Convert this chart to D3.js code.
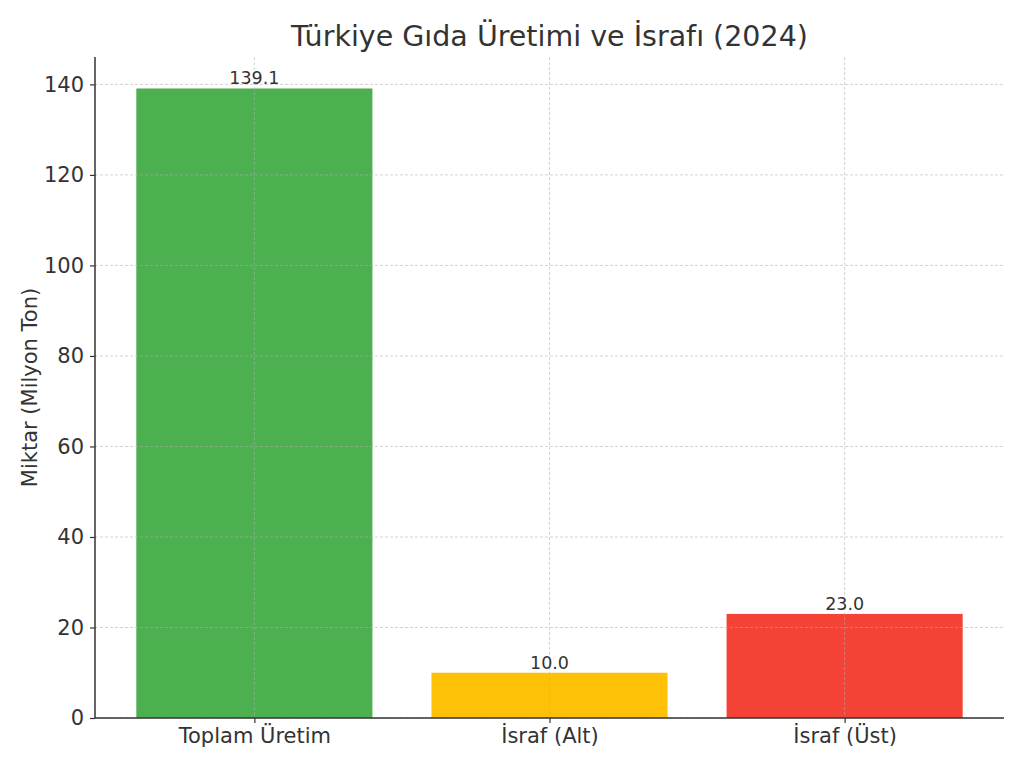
<!DOCTYPE html>
<html>
<head>
<meta charset="utf-8">
<script src="https://cdn.jsdelivr.net/npm/d3@7"></script>
<style>
  body { margin: 0; background: #fff; }
  text { font-family: "DejaVu Sans", sans-serif; fill: #333; }
</style>
</head>
<body>
<div id="wrapper"></div>
<script>
const categories = ["Toplam Üretim", "İsraf (Alt)", "İsraf (Üst)"]
const values = [139.1, 10.0, 23.0]
const barColors = ["#4caf50", "#ffc107", "#f44336"]
const yTicks = [0, 20, 40, 60, 80, 100, 120, 140]

let dimensions = {
  width: 1024,
  height: 768,
  margin: { top: 57, right: 20, bottom: 50, left: 95 }
}
dimensions.boundedWidth = dimensions.width - dimensions.margin.left - dimensions.margin.right
dimensions.boundedHeight = dimensions.height - dimensions.margin.top - dimensions.margin.bottom

const svg = d3.select("#wrapper")
  .append("svg")
    .attr("width", dimensions.width)
    .attr("height", dimensions.height)

const bounds = svg.append("g")
    .attr("transform", `translate(${dimensions.margin.left},${dimensions.margin.top})`)

// matplotlib-like limits: bars at 0..n-1, width 0.8, 5% margins
const n = categories.length
const xMin = -0.4, xMax = n - 1 + 0.4
const xPad = (xMax - xMin) * 0.05
const xScale = d3.scaleLinear()
    .domain([xMin - xPad, xMax + xPad])
    .range([0, dimensions.boundedWidth])

const yMaxVal = d3.max(values)
const yScale = d3.scaleLinear()
    .domain([0, yMaxVal * 1.05])
    .range([dimensions.boundedHeight, 0])

// bars
bounds.selectAll("rect.bar")
  .data(values)
  .join("rect")
    .attr("class", "bar")
    .attr("x", (d, i) => xScale(i - 0.4))
    .attr("width", xScale(0.8) - xScale(0))
    .attr("y", d => yScale(d))
    .attr("height", d => yScale(0) - yScale(d))
    .attr("fill", (d, i) => barColors[i])

// grid on top of bars
const grid = bounds.append("g")
grid.selectAll("line.h")
  .data(yTicks)
  .join("line")
    .attr("x1", 0)
    .attr("x2", dimensions.boundedWidth)
    .attr("y1", d => yScale(d))
    .attr("y2", d => yScale(d))
grid.selectAll("line.v")
  .data(categories)
  .join("line")
    .attr("x1", (d, i) => xScale(i))
    .attr("x2", (d, i) => xScale(i))
    .attr("y1", 0)
    .attr("y2", dimensions.boundedHeight)
grid.selectAll("line")
    .attr("stroke", "#b0b0b0")
    .attr("stroke-opacity", 0.7)
    .attr("stroke-width", 0.8)
    .attr("stroke-dasharray", "3,2")

// value labels
bounds.selectAll("text.val")
  .data(values)
  .join("text")
    .attr("class", "val")
    .attr("x", (d, i) => xScale(i))
    .attr("y", d => yScale(d) - 4)
    .attr("text-anchor", "middle")
    .style("font-size", "17.5px")
    .text(d => d.toFixed(1))

// axes
const yAxis = bounds.append("g")
  .call(d3.axisLeft(yScale).tickValues(yTicks).tickSize(5).tickPadding(6))
const xAxis = bounds.append("g")
  .attr("transform", `translate(0,${dimensions.boundedHeight})`)
  .call(d3.axisBottom(xScale).tickValues(d3.range(n)).tickFormat(i => categories[i]).tickSize(5).tickPadding(5))

yAxis.select(".domain").attr("d", `M0,0V${dimensions.boundedHeight}`)
xAxis.select(".domain").attr("d", `M0,0H${dimensions.boundedWidth}`)
;[yAxis, xAxis].forEach(a => {
  a.select(".domain").attr("stroke", "#333").attr("stroke-width", 1.5)
  a.selectAll(".tick line").attr("stroke", "#333").attr("stroke-width", 1.2)
  a.selectAll(".tick text").style("font-size", "21px").attr("fill", "#333")
    .style("font-family", "'DejaVu Sans', sans-serif")
})

// y label
svg.append("text")
    .attr("transform", `translate(37,${dimensions.margin.top + dimensions.boundedHeight / 2}) rotate(-90)`)
    .attr("text-anchor", "middle")
    .style("font-size", "21px")
    .text("Miktar (Milyon Ton)")

// title
svg.append("text")
    .attr("x", dimensions.margin.left + dimensions.boundedWidth / 2)
    .attr("y", 46)
    .attr("text-anchor", "middle")
    .style("font-size", "28.5px")
    .text("Türkiye Gıda Üretimi ve İsrafı (2024)")
</script>
</body>
</html>
